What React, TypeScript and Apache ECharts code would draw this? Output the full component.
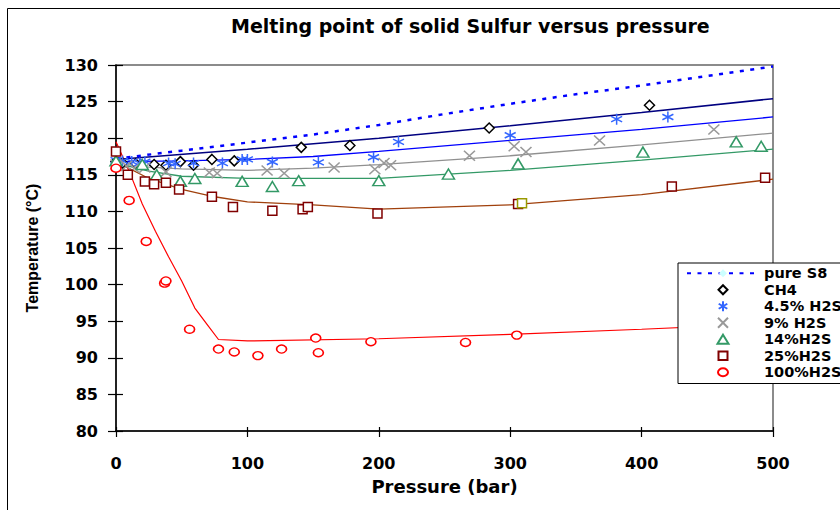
import React, { useEffect, useRef } from "react";
import * as echarts from "echarts";

// ---- data (pressure in bar, temperature in °C) ----
const xTicks = [0, 100, 200, 300, 400, 500];
const yTicks = [80, 85, 90, 95, 100, 105, 110, 115, 120, 125, 130];

const pureS8: [number, number][] = [
  [0, 117.2], [50, 118.3], [100, 119.4], [150, 120.5], [200, 121.8], [250, 123.3],
  [300, 124.7], [350, 126.0], [400, 127.2], [450, 128.5], [500, 129.8],
];

const ch4Pts: [number, number][] = [
  [0, 116.8], [5, 116.6], [15, 116.5], [29, 116.4], [38, 116.3], [49, 116.8], [59, 116.3],
  [73, 117.1], [90, 116.9], [141, 118.75], [178, 119.0], [284, 121.4], [406, 124.5],
];
const h45Pts: [number, number][] = [
  [0, 117.0], [5, 116.9], [12, 116.8], [18, 116.6], [22, 116.8], [40, 116.6], [45, 116.5],
  [59, 116.6], [81, 116.6], [96, 117.1], [100, 117.1], [119, 116.75], [154, 116.7],
  [196, 117.4], [215, 119.5], [300, 120.4], [381, 122.6], [420, 122.9],
];
const h9Pts: [number, number][] = [
  [0, 116.4], [8, 116.2], [14, 115.9], [22, 116.0], [38, 115.4], [71, 115.3], [77, 115.2],
  [115, 115.6], [128, 115.2], [166, 116.0], [197, 115.75], [204, 116.6], [209, 116.3],
  [269, 117.6], [303, 118.9], [312, 118.1], [368, 119.7], [455, 121.2],
];
const h14Pts: [number, number][] = [
  [0, 116.9], [20, 116.4], [31, 115.0], [49, 114.1], [60, 114.5], [96, 114.1], [119, 113.4],
  [139, 114.2], [200, 114.2], [253, 115.1], [306, 116.5], [401, 118.1], [472, 119.5], [491, 118.9],
];
const h25Pts: [number, number][] = [
  [0, 118.2], [9, 115.0], [22, 114.1], [29, 113.7], [38, 113.9], [48, 113.0], [73, 112.0],
  [89, 110.6], [119, 110.1], [142, 110.3], [146, 110.6], [199, 109.7], [306, 111.0],
  [423, 113.4], [494, 114.6],
];
const extraPts: [number, number][] = [[309, 111.1]];
const h100Pts: [number, number][] = [
  [0, 115.9], [10, 111.5], [23, 105.9], [37, 100.2], [38, 100.5], [56, 93.9], [78, 91.2],
  [90, 90.8], [108, 90.3], [126, 91.2], [152, 92.7], [154, 90.7], [194, 92.2], [266, 92.1],
  [305, 93.1],
];

const fitCH4: [number, number][] = [
  [0, 117.1], [100, 118.5], [200, 120.0], [300, 121.7], [400, 123.5], [500, 125.4],
];
const fit45: [number, number][] = [
  [0, 116.8], [50, 116.9], [100, 117.1], [150, 117.5], [200, 118.2], [300, 119.7], [400, 121.2], [500, 122.9],
];
const fit9: [number, number][] = [
  [0, 116.3], [50, 115.8], [100, 115.6], [150, 115.9], [200, 116.4], [300, 117.6], [400, 119.1], [500, 120.7],
];
const fit14: [number, number][] = [
  [0, 116.6], [25, 115.5], [50, 114.8], [100, 114.5], [200, 114.5], [300, 115.6], [400, 117.0], [500, 118.5],
];
const fit25: [number, number][] = [
  [0, 116.8], [25, 114.5], [50, 113.0], [75, 112.0], [100, 111.3], [150, 110.9], [200, 110.3],
  [300, 110.9], [400, 112.3], [500, 114.4],
];
const fit100: [number, number][] = [
  [0, 119.5], [10, 115.5], [20, 111.0], [30, 107.3], [40, 103.8], [50, 100.5], [60, 96.8],
  [70, 94.4], [78, 92.5], [100, 92.3], [200, 92.6], [300, 93.2], [400, 93.9], [500, 94.7],
];

const names = ["pure S8", "CH4", "4.5% H2S", "9% H2S", "14%H2S", "25%H2S", "100%H2S"];

// marker shapes (chart)
const ASTERISK = "path://M5,0L5,10M0.7,2.5L9.3,7.5M0.7,7.5L9.3,2.5";
const XMARK = "path://M0,0L10,10M0,10L10,0";
// legend icons: same shapes centred in a 72x10 box (invisible end points set the box)
const PAD = "M0,5L0,5M72,5L72,5";
const LEG_DIAMOND = `path://${PAD}M36,0.5L40.5,5L36,9.5L31.5,5Z`;
const LEG_ASTERISK = `path://${PAD}M36,0L36,10M31.7,2.5L40.3,7.5M31.7,7.5L40.3,2.5`;
const LEG_X = `path://${PAD}M31,0L41,10M31,10L41,0`;
const LEG_TRI = `path://${PAD}M36,0.5L41.5,9.5L30.5,9.5Z`;
const LEG_RECT = `path://${PAD}M31.5,1L40.5,1L40.5,9.5L31.5,9.5Z`;
const LEG_CIRCLE = `path://${PAD}M31,5A5,4,0,1,1,41,5A5,4,0,1,1,31,5Z`;

const FONT = "DejaVu Sans";

export default function App() {
  const ref = useRef<HTMLDivElement>(null);
  useEffect(() => {
    if (!ref.current) return;
    const chart = echarts.init(ref.current, null, { renderer: "svg" });
    const fitLine = (data: [number, number][], color: string, width = 1.3) => ({
      type: "line",
      data,
      showSymbol: false,
      symbol: "none",
      lineStyle: { color, width },
      z: 1,
      silent: true,
    });
    const scatter = (name: string, data: [number, number][], symbol: string, size: any, color: string, fill: string) => ({
      type: "scatter",
      name,
      data,
      symbol,
      symbolSize: size,
      itemStyle: { color: fill, borderColor: color, borderWidth: 1.5, opacity: 1 },
      z: 3,
    });
    const minX = xTicks[0], maxX = xTicks[xTicks.length - 1];
    const minY = yTicks[0], maxY = yTicks[yTicks.length - 1];
    const axisFont = { fontFamily: FONT, fontWeight: "bold" as const, fontSize: 16, color: "#000" };
    chart.setOption({
      animation: false,
      backgroundColor: "#fff",
      title: {
        text: "Melting point of solid Sulfur versus pressure",
        left: 226,
        top: 11,
        textStyle: { fontFamily: FONT, fontWeight: "bold", fontSize: 19, color: "#000" },
      },
      graphic: [
        {
          type: "rect",
          shape: { x: 7.5, y: 8.5, width: 900, height: 600 },
          style: { fill: "none", stroke: "#000", lineWidth: 1 },
          silent: true,
        },
      ],
      grid: {
        left: 116, top: 65, width: 657, height: 366,
        show: true, borderColor: "#666", borderWidth: 1.5, backgroundColor: "transparent",
      },
      xAxis: [
        {
          type: "value", min: minX, max: maxX, interval: 100,
          name: "Pressure (bar)", nameLocation: "middle", nameGap: 46,
          nameTextStyle: { ...axisFont, fontSize: 18 },
          axisLine: { lineStyle: { color: "#000", width: 1.5 } },
          axisTick: { inside: false, length: 6, lineStyle: { color: "#000", width: 1.2 } },
          axisLabel: { ...axisFont, margin: 24 },
          splitLine: { show: false },
        },
        {
          type: "value", min: minX, max: maxX, interval: 100, position: "bottom",
          axisLine: { show: false },
          axisTick: { inside: true, length: 4, lineStyle: { color: "#000", width: 1.2 } },
          axisLabel: { show: false },
          splitLine: { show: false },
        },
      ],
      yAxis: [
        {
          type: "value", min: minY, max: maxY, interval: 5,
          name: "Temperature (°C)", nameLocation: "middle", nameGap: 76,
          nameTextStyle: { fontFamily: "Liberation Sans", fontWeight: "bold", fontSize: 16, color: "#000" },
          axisLine: { lineStyle: { color: "#000", width: 1.5 } },
          axisTick: { inside: false, length: 8, lineStyle: { color: "#000", width: 1.2 } },
          axisLabel: { ...axisFont, margin: 18 },
          splitLine: { show: false },
        },
        {
          type: "value", min: minY, max: maxY, interval: 5, position: "left",
          axisLine: { show: false },
          axisTick: { inside: true, length: 7, lineStyle: { color: "#000", width: 1.2 } },
          axisLabel: { show: false },
          splitLine: { show: false },
        },
      ],
      legend: {
        data: [
          { name: names[0] },
          { name: names[1], icon: LEG_DIAMOND },
          { name: names[2], icon: LEG_ASTERISK },
          { name: names[3], icon: LEG_X },
          { name: names[4], icon: LEG_TRI },
          { name: names[5], icon: LEG_RECT },
          { name: names[6], icon: LEG_CIRCLE },
        ],
        orient: "vertical",
        left: 678,
        top: 263,
        padding: [2, 10, 3, 8],
        itemGap: 0,
        itemWidth: 72,
        itemHeight: 10,
        borderColor: "#000",
        borderWidth: 1,
        backgroundColor: "#fff",
        textStyle: { fontFamily: FONT, fontWeight: "bold", fontSize: 14.5, color: "#000", lineHeight: 16.5 },
        selectedMode: false,
      },
      series: [
        fitLine(fitCH4, "#000080", 1.5),
        fitLine(fit45, "#0000ff"),
        fitLine(fit9, "#909090"),
        fitLine(fit14, "#339966"),
        fitLine(fit25, "#a0400c"),
        fitLine(fit100, "#ff0000", 1.2),
        {
          type: "line",
          name: "pure S8",
          data: pureS8.map((p) => ({ value: p, symbol: "none" })),
          symbol: "diamond",
          symbolSize: 10,
          showSymbol: true,
          itemStyle: { color: "#ccffff" },
          lineStyle: { color: "#0000ff", width: 2.5, type: [4, 6.5] },
          z: 2,
        },
        scatter("CH4", ch4Pts, "diamond", [10, 10], "#000000", "#ffffff"),
        scatter("4.5% H2S", h45Pts, ASTERISK, [11, 11], "#3366ff", "#3366ff"),
        scatter("9% H2S", h9Pts, XMARK, [11, 10], "#999999", "#999999"),
        scatter("14%H2S", h14Pts, "triangle", [12, 10], "#339966", "#ffffff"),
        scatter("25%H2S", h25Pts, "rect", [9, 9], "#800000", "#ffffff"),
        scatter("olive", extraPts, "rect", [9, 9], "#999900", "#ffffff"),
        scatter("100%H2S", h100Pts, "circle", [10, 8], "#ff0000", "#ffffff"),
      ],
    });
    return () => chart.dispose();
  }, []);
  return (
    <div
      ref={ref}
      style={{ position: "absolute", left: 0, top: 0, width: 840, height: 510 }}
    />
  );
}
